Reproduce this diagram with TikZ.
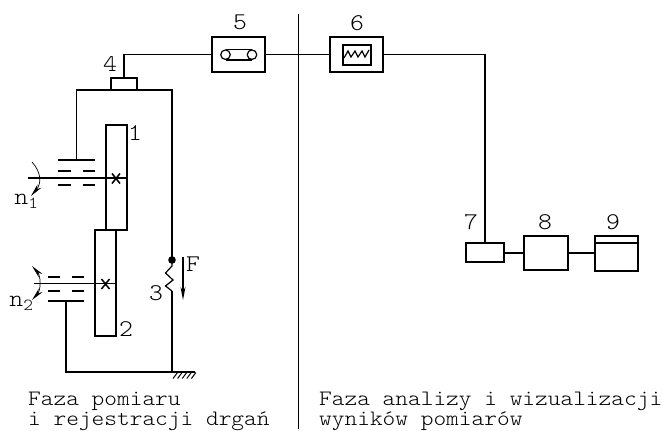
\documentclass[tikz,border=0pt]{standalone}
\usepackage{fontspec}
\setmainfont[FakeStretch=1.1]{Latin Modern Mono Light}
\usetikzlibrary{arrows.meta}
\tikzset{
	linia/.style={line width=1.2pt},
	blok/.style={draw, line width=1.2pt, inner sep=0pt, outer sep=0pt},
	opis/.style={font=\fontsize{24}{24}\selectfont, inner sep=0pt},
	tekst/.style={font=\fontsize{22}{20}\selectfont, inner sep=0pt, anchor=west}
}
\begin{document}
\begin{tikzpicture}[x=1pt, y=-1pt, >={Stealth[length=13pt,width=5pt]}]
	\useasboundingbox (0,0) rectangle (662,431);
	% the two phases
	\coordinate (podzialg) at (298,14);
	\coordinate (podziald) at (298,429);
	\draw[line width=0.9pt] (podzialg) -- (podziald);
	% boxes of the measuring chain
	\node[blok, minimum width=26pt, minimum height=12pt] (b4) at (124,84) {};
	\node[blok, minimum width=53pt, minimum height=35pt] (b5) at (238.5,54.5) {};
	\node[blok, minimum width=53pt, minimum height=35pt] (b6) at (356.5,54.5) {};
	\node[blok, minimum width=28pt, minimum height=20pt] (b6in) at (357,55) {};
	\node[blok, minimum width=38pt, minimum height=19pt] (b7) at (485,252.5) {};
	\node[blok, minimum width=44pt, minimum height=34pt] (b8) at (546,253) {};
	\node[blok, minimum width=43pt, minimum height=35pt] (b9) at (616.5,253.5) {};
	\draw[linia] (b9.north west |- 0,243) -- (b9.north east |- 0,243);
	% wires
	\draw[linia] (b4.north) |- (b5.west);
	\draw[linia] (b5.east) -- (b6.west);
	\draw[linia] (b6.east) -| (b7.north);
	\draw[linia] (b7.east |- 0,253) -- (b8.west |- 0,253);
	\draw[linia] (b8.east |- 0,253) -- (b9.west |- 0,253);
	% inside of 5 and 6
	\node[draw, linia, circle, minimum size=9.5pt, inner sep=0pt] (k1) at (225.5,54.7) {};
	\node[draw, linia, circle, minimum size=9.5pt, inner sep=0pt] (k2) at (252,54.7) {};
	\draw[linia] (k1.north) -- (k2.north);
	\draw[linia] (k1.south) -- (k2.south);
	\draw[linia] (344,58) -- (348,51) -- (351,57) -- (355,51) -- (358,57) -- (362,51) -- (365,57) -- (369,50);
	% gears
	\node[blok, minimum width=21pt, minimum height=105pt] (k1g) at (116.5,177.5) {};
	\node[blok, minimum width=21pt, minimum height=106pt] (k2g) at (105.5,283) {};
	% frame, upper part
	\coordinate (lg1) at (58,160);
	\coordinate (lg2) at (95,160);
	\coordinate (ld1) at (48,301);
	\coordinate (ld2) at (84,301);
	\coordinate (naroznik) at (172,372);
	\coordinate (punktF) at (172,260);
	\draw[linia] (lg1) -- (lg2);
	\draw[linia] (76.7,160) |- (b4.south west);
	\draw[linia] (b4.south east) -| (punktF);
	\draw[linia] (ld1) -- (ld2);
	\draw[linia] (66,301) |- (naroznik);
	\draw[linia] (naroznik) -- (172,291);
	% spring
	\fill (punktF) circle (3.8pt);
	\draw[linia] (punktF) -- (172,266) -- (165.5,273) -- (173,280) -- (165.5,286) -- (172,291);
	% ground
	\foreach \i in {0,4.6,...,19} {
		\draw[line width=1pt] (173+\i,378.5) -- (177.5+\i,372.5);
	}
	\draw[linia] (naroznik) -- (195,372);
	% shafts
	\draw[linia] (28,178) -- (127,178);
	\draw[linia] (34,283.7) -- (116,283.7);
	\draw[line width=1.5pt] (112,173.5) -- (120,183.5) (120,173.5) -- (112,183.5);
	\draw[line width=1.5pt] (101.5,279) -- (109.5,289) (109.5,279) -- (101.5,289);
	% bearings
	\foreach \y in {171,185} {
		\draw[linia] (58,\y) -- (71,\y) (83,\y) -- (95,\y);
	}
	\foreach \y in {277,291} {
		\draw[linia] (48,\y) -- (60,\y) (72,\y) -- (84,\y);
	}
	% rotation
	\draw[line width=0.7pt, ->] (32,162) .. controls (41,172) and (42,183) .. (31,196);
	\draw[line width=0.7pt, <->] (32,266) .. controls (41,276) and (41,290) .. (32,300);
	\draw[linia, ->] (183,257) -- (183,300);
	% labels
	\node[opis] (l1) at (135,133) {1};
	\node[opis] (l2) at (126,329) {2};
	\node[opis] (l3) at (156,293) {3};
	\node[opis] (l4) at (110,64) {4};
	\node[opis] (l5) at (240,22) {5};
	\node[opis] (l6) at (357,23) {6};
	\node[opis] (l7) at (471,222) {7};
	\node[opis] (l8) at (545,222) {8};
	\node[opis] (l9) at (613,222) {9};
	\node[opis] (lF) at (193,264) {F};
	\node[opis] (ln1) at (26,201) {n$_{\mathrm{1}}$};
	\node[opis] (ln2) at (21,303) {n$_{\mathrm{2}}$};
	\node[tekst] (t1) at (28,401) {Faza pomiaru};
	\node[tekst] (t2) at (28,421) {i rejestracji drgań};
	\node[tekst] (t3) at (319,401) {Faza analizy i wizualizacji};
	\node[tekst] (t4) at (319,421) {wyników pomiarów};
\end{tikzpicture}
\end{document}
